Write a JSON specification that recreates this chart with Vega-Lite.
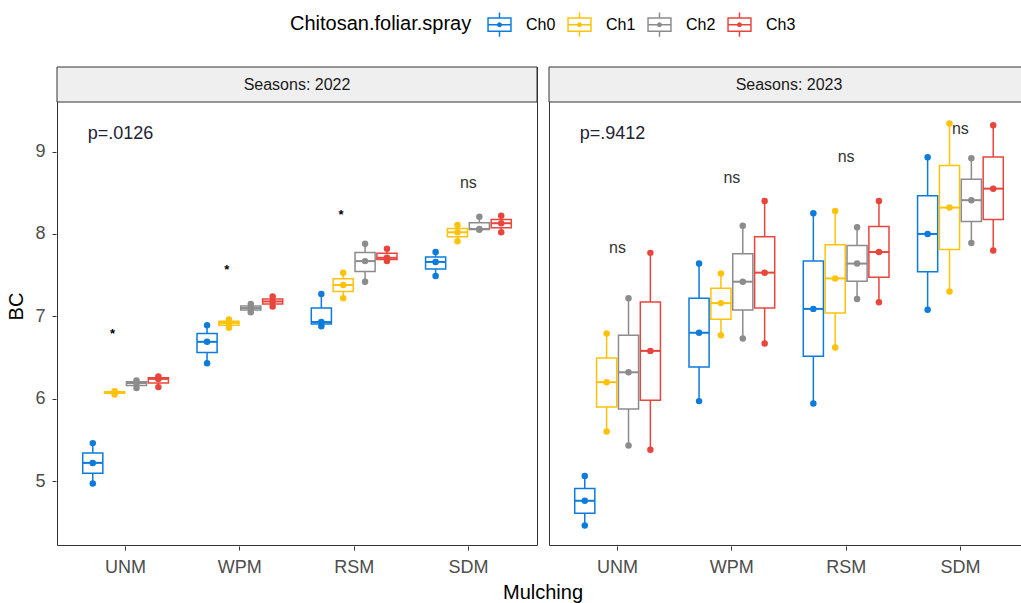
{
  "$schema": "https://vega.github.io/schema/vega-lite/v6.json",
  "padding": {"left": 6, "top": 12, "right": 0, "bottom": 0},
  "background": "white",
  "config": {
    "font": "Liberation Sans",
    "view": {"stroke": "#333333", "strokeWidth": 1},
    "axis": {"grid": false, "domain": false, "tickColor": "#333333", "tickSize": 4, "labelColor": "#4d4d4d", "labelFontSize": 18, "titleFontSize": 20, "titleFontWeight": "normal", "titleColor": "#000000"}
  },
  "data": {"values": [
    {"kind": "strip", "Seasons": "2022", "label": "Seasons: 2022"},
    {"kind": "strip", "Seasons": "2023", "label": "Seasons: 2023"},
    {"kind": "p", "Seasons": "2022", "Mulching": "UNM", "label": "p=.0126", "BC": 9.216},
    {"kind": "p", "Seasons": "2023", "Mulching": "UNM", "label": "p=.9412", "BC": 9.21},
    {"kind": "ns", "Seasons": "2022", "Mulching": "SDM", "label": "ns", "BC": 8.62},
    {"kind": "ns", "Seasons": "2023", "Mulching": "UNM", "label": "ns", "BC": 7.83},
    {"kind": "ns", "Seasons": "2023", "Mulching": "WPM", "label": "ns", "BC": 8.68},
    {"kind": "ns", "Seasons": "2023", "Mulching": "RSM", "label": "ns", "BC": 8.93},
    {"kind": "ns", "Seasons": "2023", "Mulching": "SDM", "label": "ns", "BC": 9.28},
    {"kind": "star", "Seasons": "2022", "Mulching": "UNM", "label": "*", "BC": 6.83},
    {"kind": "star", "Seasons": "2022", "Mulching": "WPM", "label": "*", "BC": 7.61},
    {"kind": "star", "Seasons": "2022", "Mulching": "RSM", "label": "*", "BC": 8.28},

    {"kind": "obs", "Seasons": "2022", "Mulching": "UNM", "Ch": "Ch0", "BC": 4.97},
    {"kind": "obs", "Seasons": "2022", "Mulching": "UNM", "Ch": "Ch0", "BC": 5.22},
    {"kind": "obs", "Seasons": "2022", "Mulching": "UNM", "Ch": "Ch0", "BC": 5.46},
    {"kind": "obs", "Seasons": "2022", "Mulching": "UNM", "Ch": "Ch1", "BC": 6.05},
    {"kind": "obs", "Seasons": "2022", "Mulching": "UNM", "Ch": "Ch1", "BC": 6.08},
    {"kind": "obs", "Seasons": "2022", "Mulching": "UNM", "Ch": "Ch1", "BC": 6.09},
    {"kind": "obs", "Seasons": "2022", "Mulching": "UNM", "Ch": "Ch2", "BC": 6.13},
    {"kind": "obs", "Seasons": "2022", "Mulching": "UNM", "Ch": "Ch2", "BC": 6.19},
    {"kind": "obs", "Seasons": "2022", "Mulching": "UNM", "Ch": "Ch2", "BC": 6.22},
    {"kind": "obs", "Seasons": "2022", "Mulching": "UNM", "Ch": "Ch3", "BC": 6.14},
    {"kind": "obs", "Seasons": "2022", "Mulching": "UNM", "Ch": "Ch3", "BC": 6.24},
    {"kind": "obs", "Seasons": "2022", "Mulching": "UNM", "Ch": "Ch3", "BC": 6.27},
    {"kind": "obs", "Seasons": "2022", "Mulching": "WPM", "Ch": "Ch0", "BC": 6.43},
    {"kind": "obs", "Seasons": "2022", "Mulching": "WPM", "Ch": "Ch0", "BC": 6.69},
    {"kind": "obs", "Seasons": "2022", "Mulching": "WPM", "Ch": "Ch0", "BC": 6.89},
    {"kind": "obs", "Seasons": "2022", "Mulching": "WPM", "Ch": "Ch1", "BC": 6.86},
    {"kind": "obs", "Seasons": "2022", "Mulching": "WPM", "Ch": "Ch1", "BC": 6.92},
    {"kind": "obs", "Seasons": "2022", "Mulching": "WPM", "Ch": "Ch1", "BC": 6.96},
    {"kind": "obs", "Seasons": "2022", "Mulching": "WPM", "Ch": "Ch2", "BC": 7.05},
    {"kind": "obs", "Seasons": "2022", "Mulching": "WPM", "Ch": "Ch2", "BC": 7.10},
    {"kind": "obs", "Seasons": "2022", "Mulching": "WPM", "Ch": "Ch2", "BC": 7.15},
    {"kind": "obs", "Seasons": "2022", "Mulching": "WPM", "Ch": "Ch3", "BC": 7.12},
    {"kind": "obs", "Seasons": "2022", "Mulching": "WPM", "Ch": "Ch3", "BC": 7.18},
    {"kind": "obs", "Seasons": "2022", "Mulching": "WPM", "Ch": "Ch3", "BC": 7.24},
    {"kind": "obs", "Seasons": "2022", "Mulching": "RSM", "Ch": "Ch0", "BC": 6.88},
    {"kind": "obs", "Seasons": "2022", "Mulching": "RSM", "Ch": "Ch0", "BC": 6.93},
    {"kind": "obs", "Seasons": "2022", "Mulching": "RSM", "Ch": "Ch0", "BC": 7.27},
    {"kind": "obs", "Seasons": "2022", "Mulching": "RSM", "Ch": "Ch1", "BC": 7.22},
    {"kind": "obs", "Seasons": "2022", "Mulching": "RSM", "Ch": "Ch1", "BC": 7.38},
    {"kind": "obs", "Seasons": "2022", "Mulching": "RSM", "Ch": "Ch1", "BC": 7.53},
    {"kind": "obs", "Seasons": "2022", "Mulching": "RSM", "Ch": "Ch2", "BC": 7.42},
    {"kind": "obs", "Seasons": "2022", "Mulching": "RSM", "Ch": "Ch2", "BC": 7.67},
    {"kind": "obs", "Seasons": "2022", "Mulching": "RSM", "Ch": "Ch2", "BC": 7.88},
    {"kind": "obs", "Seasons": "2022", "Mulching": "RSM", "Ch": "Ch3", "BC": 7.67},
    {"kind": "obs", "Seasons": "2022", "Mulching": "RSM", "Ch": "Ch3", "BC": 7.71},
    {"kind": "obs", "Seasons": "2022", "Mulching": "RSM", "Ch": "Ch3", "BC": 7.82},
    {"kind": "obs", "Seasons": "2022", "Mulching": "SDM", "Ch": "Ch0", "BC": 7.49},
    {"kind": "obs", "Seasons": "2022", "Mulching": "SDM", "Ch": "Ch0", "BC": 7.66},
    {"kind": "obs", "Seasons": "2022", "Mulching": "SDM", "Ch": "Ch0", "BC": 7.78},
    {"kind": "obs", "Seasons": "2022", "Mulching": "SDM", "Ch": "Ch1", "BC": 7.91},
    {"kind": "obs", "Seasons": "2022", "Mulching": "SDM", "Ch": "Ch1", "BC": 8.02},
    {"kind": "obs", "Seasons": "2022", "Mulching": "SDM", "Ch": "Ch1", "BC": 8.11},
    {"kind": "obs", "Seasons": "2022", "Mulching": "SDM", "Ch": "Ch2", "BC": 8.05},
    {"kind": "obs", "Seasons": "2022", "Mulching": "SDM", "Ch": "Ch2", "BC": 8.06},
    {"kind": "obs", "Seasons": "2022", "Mulching": "SDM", "Ch": "Ch2", "BC": 8.21},
    {"kind": "obs", "Seasons": "2022", "Mulching": "SDM", "Ch": "Ch3", "BC": 8.02},
    {"kind": "obs", "Seasons": "2022", "Mulching": "SDM", "Ch": "Ch3", "BC": 8.13},
    {"kind": "obs", "Seasons": "2022", "Mulching": "SDM", "Ch": "Ch3", "BC": 8.22},

    {"kind": "obs", "Seasons": "2023", "Mulching": "UNM", "Ch": "Ch0", "BC": 4.46},
    {"kind": "obs", "Seasons": "2023", "Mulching": "UNM", "Ch": "Ch0", "BC": 4.76},
    {"kind": "obs", "Seasons": "2023", "Mulching": "UNM", "Ch": "Ch0", "BC": 5.06},
    {"kind": "obs", "Seasons": "2023", "Mulching": "UNM", "Ch": "Ch1", "BC": 5.60},
    {"kind": "obs", "Seasons": "2023", "Mulching": "UNM", "Ch": "Ch1", "BC": 6.20},
    {"kind": "obs", "Seasons": "2023", "Mulching": "UNM", "Ch": "Ch1", "BC": 6.79},
    {"kind": "obs", "Seasons": "2023", "Mulching": "UNM", "Ch": "Ch2", "BC": 5.43},
    {"kind": "obs", "Seasons": "2023", "Mulching": "UNM", "Ch": "Ch2", "BC": 6.32},
    {"kind": "obs", "Seasons": "2023", "Mulching": "UNM", "Ch": "Ch2", "BC": 7.22},
    {"kind": "obs", "Seasons": "2023", "Mulching": "UNM", "Ch": "Ch3", "BC": 5.38},
    {"kind": "obs", "Seasons": "2023", "Mulching": "UNM", "Ch": "Ch3", "BC": 6.58},
    {"kind": "obs", "Seasons": "2023", "Mulching": "UNM", "Ch": "Ch3", "BC": 7.77},
    {"kind": "obs", "Seasons": "2023", "Mulching": "WPM", "Ch": "Ch0", "BC": 5.97},
    {"kind": "obs", "Seasons": "2023", "Mulching": "WPM", "Ch": "Ch0", "BC": 6.80},
    {"kind": "obs", "Seasons": "2023", "Mulching": "WPM", "Ch": "Ch0", "BC": 7.64},
    {"kind": "obs", "Seasons": "2023", "Mulching": "WPM", "Ch": "Ch1", "BC": 6.77},
    {"kind": "obs", "Seasons": "2023", "Mulching": "WPM", "Ch": "Ch1", "BC": 7.16},
    {"kind": "obs", "Seasons": "2023", "Mulching": "WPM", "Ch": "Ch1", "BC": 7.52},
    {"kind": "obs", "Seasons": "2023", "Mulching": "WPM", "Ch": "Ch2", "BC": 6.73},
    {"kind": "obs", "Seasons": "2023", "Mulching": "WPM", "Ch": "Ch2", "BC": 7.42},
    {"kind": "obs", "Seasons": "2023", "Mulching": "WPM", "Ch": "Ch2", "BC": 8.10},
    {"kind": "obs", "Seasons": "2023", "Mulching": "WPM", "Ch": "Ch3", "BC": 6.67},
    {"kind": "obs", "Seasons": "2023", "Mulching": "WPM", "Ch": "Ch3", "BC": 7.53},
    {"kind": "obs", "Seasons": "2023", "Mulching": "WPM", "Ch": "Ch3", "BC": 8.40},
    {"kind": "obs", "Seasons": "2023", "Mulching": "RSM", "Ch": "Ch0", "BC": 5.94},
    {"kind": "obs", "Seasons": "2023", "Mulching": "RSM", "Ch": "Ch0", "BC": 7.09},
    {"kind": "obs", "Seasons": "2023", "Mulching": "RSM", "Ch": "Ch0", "BC": 8.25},
    {"kind": "obs", "Seasons": "2023", "Mulching": "RSM", "Ch": "Ch1", "BC": 6.62},
    {"kind": "obs", "Seasons": "2023", "Mulching": "RSM", "Ch": "Ch1", "BC": 7.46},
    {"kind": "obs", "Seasons": "2023", "Mulching": "RSM", "Ch": "Ch1", "BC": 8.28},
    {"kind": "obs", "Seasons": "2023", "Mulching": "RSM", "Ch": "Ch2", "BC": 7.21},
    {"kind": "obs", "Seasons": "2023", "Mulching": "RSM", "Ch": "Ch2", "BC": 7.64},
    {"kind": "obs", "Seasons": "2023", "Mulching": "RSM", "Ch": "Ch2", "BC": 8.08},
    {"kind": "obs", "Seasons": "2023", "Mulching": "RSM", "Ch": "Ch3", "BC": 7.17},
    {"kind": "obs", "Seasons": "2023", "Mulching": "RSM", "Ch": "Ch3", "BC": 7.78},
    {"kind": "obs", "Seasons": "2023", "Mulching": "RSM", "Ch": "Ch3", "BC": 8.40},
    {"kind": "obs", "Seasons": "2023", "Mulching": "SDM", "Ch": "Ch0", "BC": 7.08},
    {"kind": "obs", "Seasons": "2023", "Mulching": "SDM", "Ch": "Ch0", "BC": 8.00},
    {"kind": "obs", "Seasons": "2023", "Mulching": "SDM", "Ch": "Ch0", "BC": 8.93},
    {"kind": "obs", "Seasons": "2023", "Mulching": "SDM", "Ch": "Ch1", "BC": 7.30},
    {"kind": "obs", "Seasons": "2023", "Mulching": "SDM", "Ch": "Ch1", "BC": 8.32},
    {"kind": "obs", "Seasons": "2023", "Mulching": "SDM", "Ch": "Ch1", "BC": 9.34},
    {"kind": "obs", "Seasons": "2023", "Mulching": "SDM", "Ch": "Ch2", "BC": 7.89},
    {"kind": "obs", "Seasons": "2023", "Mulching": "SDM", "Ch": "Ch2", "BC": 8.41},
    {"kind": "obs", "Seasons": "2023", "Mulching": "SDM", "Ch": "Ch2", "BC": 8.92},
    {"kind": "obs", "Seasons": "2023", "Mulching": "SDM", "Ch": "Ch3", "BC": 7.80},
    {"kind": "obs", "Seasons": "2023", "Mulching": "SDM", "Ch": "Ch3", "BC": 8.55},
    {"kind": "obs", "Seasons": "2023", "Mulching": "SDM", "Ch": "Ch3", "BC": 9.32}
  ]},
  "facet": {"column": {"field": "Seasons", "type": "nominal", "header": {"title": "Mulching", "titleOrient": "bottom", "titleFontSize": 20, "titleFontWeight": "normal", "titleColor": "#000000", "titlePadding": -3, "labels": false}}},
  "spacing": 10,
  "spec": {
    "width": 480,
    "height": 478,
    "layer": [
      {
        "transform": [{"filter": "datum.kind === 'strip'"}],
        "mark": {"type": "rect", "fill": "#efefef", "stroke": "#333333", "strokeWidth": 1},
        "encoding": {
          "y": {"datum": 9.602, "type": "quantitative", "scale": {"domain": [4.223, 10.027], "nice": false, "zero": false}, "axis": {"values": [5, 6, 7, 8, 9], "format": "d", "title": "BC", "labelPadding": 7, "titlePadding": 8}},
          "y2": {"datum": 10.027}
        }
      },
      {
        "transform": [{"filter": "datum.kind === 'strip'"}],
        "mark": {"type": "text", "fontSize": 16, "color": "#1a1a1a", "baseline": "middle"},
        "encoding": {
          "y": {"datum": 9.8145, "type": "quantitative"},
          "text": {"field": "label", "type": "nominal"}
        }
      },
      {
        "transform": [{"filter": "datum.kind === 'obs'"}],
        "mark": {"type": "rule", "strokeWidth": 1.5},
        "encoding": {
          "x": {"field": "Mulching", "type": "nominal", "sort": ["UNM", "WPM", "RSM", "SDM"], "scale": {"paddingInner": 0.25, "paddingOuter": 0.225}, "axis": {"title": null, "labelAngle": 0, "labelPadding": 8}},
          "xOffset": {"field": "Ch", "type": "nominal", "scale": {"paddingInner": 0.08, "paddingOuter": 0}},
          "y": {"aggregate": "min", "field": "BC", "type": "quantitative"},
          "y2": {"aggregate": "max", "field": "BC"},
          "stroke": {"field": "Ch", "type": "nominal", "scale": {"domain": ["Ch0", "Ch1", "Ch2", "Ch3"], "range": ["#0C7BDC", "#FFC20A", "#8C8C8C", "#E8453C"]},
            "legend": {
              "orient": "none", "legendX": 233, "legendY": -55, "direction": "horizontal",
              "title": "Chitosan.foliar.spray", "titleOrient": "left", "titleLimit": 400, "titleFontSize": 20, "titleFontWeight": "normal", "titleColor": "#000000", "titlePadding": 15,
              "labelFontSize": 16, "labelColor": "#000000", "labelOffset": 14, "columnPadding": 11,
              "symbolType": "M-1,-0.6L1,-0.6L1,0.6L-1,0.6Z M-0.88,-0.48L-0.88,0.48L0.88,0.48L0.88,-0.48Z M-0.88,-0.06L0.88,-0.06L0.88,0.06L-0.88,0.06Z M-0.06,-1L0.06,-1L0.06,-0.6L-0.06,-0.6Z M-0.06,0.6L0.06,0.6L0.06,1L-0.06,1Z M-0.2,0A0.2,0.2 0 1,1 0.2,0A0.2,0.2 0 1,1 -0.2,0Z",
              "symbolSize": 595, "symbolStrokeWidth": 0,
              "encode": {"symbols": {"update": {"fill": {"scale": "stroke", "field": "value"}, "stroke": {"value": "transparent"}}}}
            }
          }
        }
      },
      {
        "transform": [{"filter": "datum.kind === 'obs'"}],
        "mark": {"type": "bar", "fill": "white", "strokeWidth": 1.5},
        "encoding": {
          "x": {"field": "Mulching", "type": "nominal", "sort": ["UNM", "WPM", "RSM", "SDM"]},
          "xOffset": {"field": "Ch", "type": "nominal"},
          "y": {"aggregate": "q1", "field": "BC", "type": "quantitative"},
          "y2": {"aggregate": "q3", "field": "BC"},
          "stroke": {"field": "Ch", "type": "nominal"}
        }
      },
      {
        "transform": [{"filter": "datum.kind === 'obs'"}],
        "mark": {"type": "tick", "thickness": 2, "size": 20},
        "encoding": {
          "x": {"field": "Mulching", "type": "nominal", "sort": ["UNM", "WPM", "RSM", "SDM"]},
          "xOffset": {"field": "Ch", "type": "nominal"},
          "y": {"aggregate": "median", "field": "BC", "type": "quantitative"},
          "color": {"field": "Ch", "type": "nominal", "scale": {"domain": ["Ch0", "Ch1", "Ch2", "Ch3"], "range": ["#0C7BDC", "#FFC20A", "#8C8C8C", "#E8453C"]}, "legend": null}
        }
      },
      {
        "transform": [{"filter": "datum.kind === 'obs'"}],
        "mark": {"type": "point", "filled": true, "size": 42, "opacity": 1, "strokeWidth": 0},
        "encoding": {
          "x": {"field": "Mulching", "type": "nominal", "sort": ["UNM", "WPM", "RSM", "SDM"]},
          "xOffset": {"field": "Ch", "type": "nominal"},
          "y": {"field": "BC", "type": "quantitative"},
          "color": {"field": "Ch", "type": "nominal", "legend": null}
        }
      },
      {
        "transform": [{"filter": "datum.kind === 'p'"}],
        "mark": {"type": "text", "fontSize": 18, "color": "#222233", "baseline": "middle", "dx": -5},
        "encoding": {
          "x": {"field": "Mulching", "type": "nominal", "sort": ["UNM", "WPM", "RSM", "SDM"]},
          "y": {"field": "BC", "type": "quantitative"},
          "text": {"field": "label", "type": "nominal"}
        }
      },
      {
        "transform": [{"filter": "datum.kind === 'ns'"}],
        "mark": {"type": "text", "fontSize": 16, "color": "#333333", "baseline": "middle"},
        "encoding": {
          "x": {"field": "Mulching", "type": "nominal", "sort": ["UNM", "WPM", "RSM", "SDM"]},
          "y": {"field": "BC", "type": "quantitative"},
          "text": {"field": "label", "type": "nominal"}
        }
      },
      {
        "transform": [{"filter": "datum.kind === 'star'"}],
        "mark": {"type": "text", "fontSize": 13, "fontWeight": "bold", "color": "#000000", "baseline": "middle", "dy": 4, "dx": -13},
        "encoding": {
          "x": {"field": "Mulching", "type": "nominal", "sort": ["UNM", "WPM", "RSM", "SDM"]},
          "y": {"field": "BC", "type": "quantitative"},
          "text": {"field": "label", "type": "nominal"}
        }
      }
    ]
  }
}
